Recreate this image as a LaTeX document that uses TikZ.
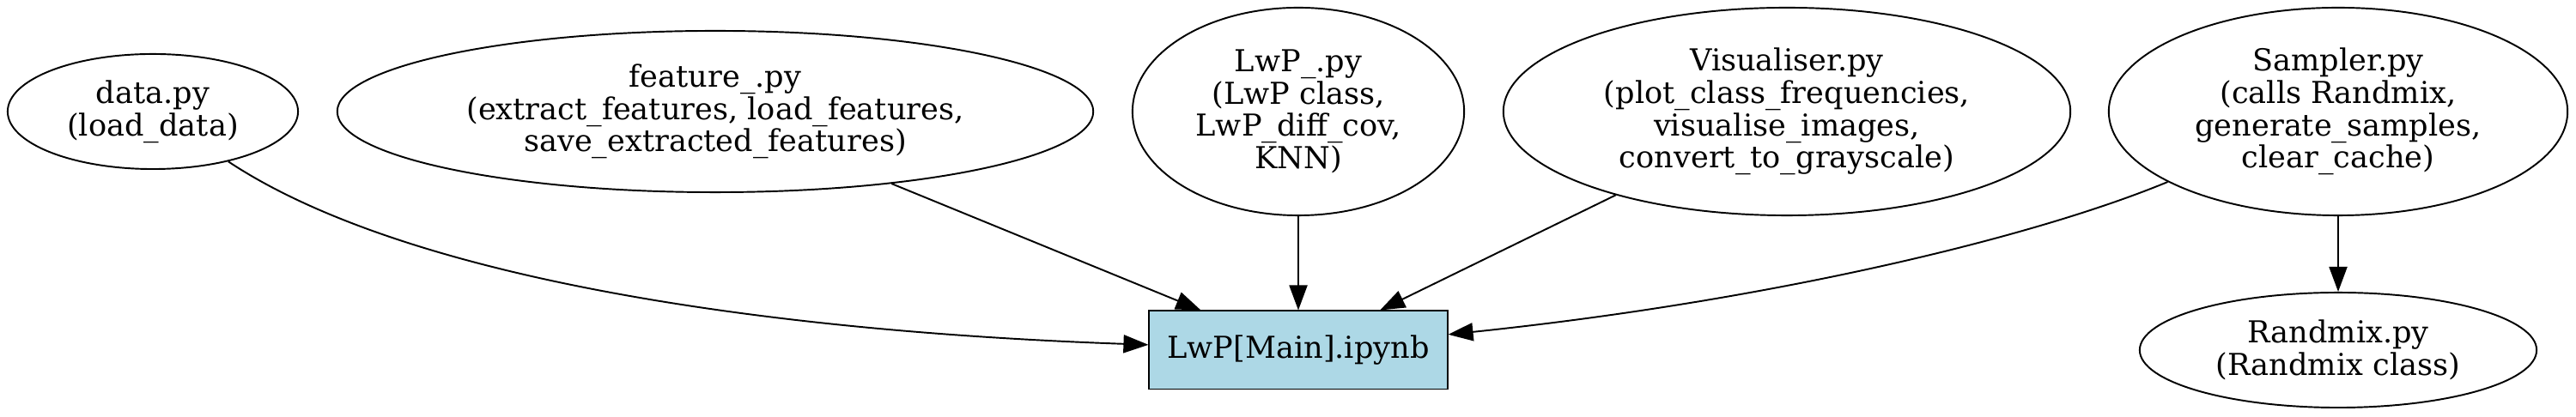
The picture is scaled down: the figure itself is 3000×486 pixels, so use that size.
\documentclass[tikz,border=0pt]{standalone}
\usepackage{fontspec}
\setmainfont{DejaVu Serif}
\usetikzlibrary{shapes.geometric,arrows.meta}
\definecolor{mainfill}{RGB}{173,216,230}
\begin{document}
\begin{tikzpicture}[x=0.01cm,y=-0.01cm,
  every node/.style={font=\fontsize{10}{10.7}\selectfont, align=center, inner sep=0pt},
  modnode/.style={draw, ellipse, line width=0.55pt},
  mainnode/.style={draw, rectangle, fill=mainfill, line width=0.55pt, minimum width=3.47cm, minimum height=0.91cm},
  edge/.style={line width=0.55pt, -{Triangle[length=0.29cm,width=0.21cm]}}]
\useasboundingbox (0,0) rectangle (3000,486);

\node[modnode, minimum width=3.38cm, minimum height=1.34cm] (data) at (178,130)
  {data.py\\(load\_data)};
\node[modnode, minimum width=8.80cm, minimum height=1.88cm] (feature) at (833,130)
  {feature\_.py\\(extract\_features, load\_features,\\save\_extracted\_features)};
\node[modnode, minimum width=3.86cm, minimum height=2.42cm] (lwp) at (1512,130)
  {LwP\_.py\\(LwP class,\\LwP\_diff\_cov,\\KNN)};
\node[modnode, minimum width=6.60cm, minimum height=2.42cm] (vis) at (2081,130)
  {Visualiser.py\\(plot\_class\_frequencies,\\visualise\_images,\\convert\_to\_grayscale)};
\node[modnode, minimum width=5.34cm, minimum height=2.42cm] (sampler) at (2723,130)
  {Sampler.py\\(calls Randmix,\\generate\_samples,\\clear\_cache)};
\node[modnode, minimum width=4.62cm, minimum height=1.34cm] (randmix) at (2723,408)
  {Randmix.py\\(Randmix class)};
\node[mainnode] (main) at (1512,408) {LwP[Main].ipynb};

\draw[edge] (data) .. controls (472,325) and (890,386) .. (main);
\draw[edge] (feature) -- (main);
\draw[edge] (lwp) -- (main);
\draw[edge] (vis) -- (main);
\draw[edge] (sampler) .. controls (2360,280) and (2050,352) .. (main);
\draw[edge] (sampler) -- (randmix);
\end{tikzpicture}
\end{document}
